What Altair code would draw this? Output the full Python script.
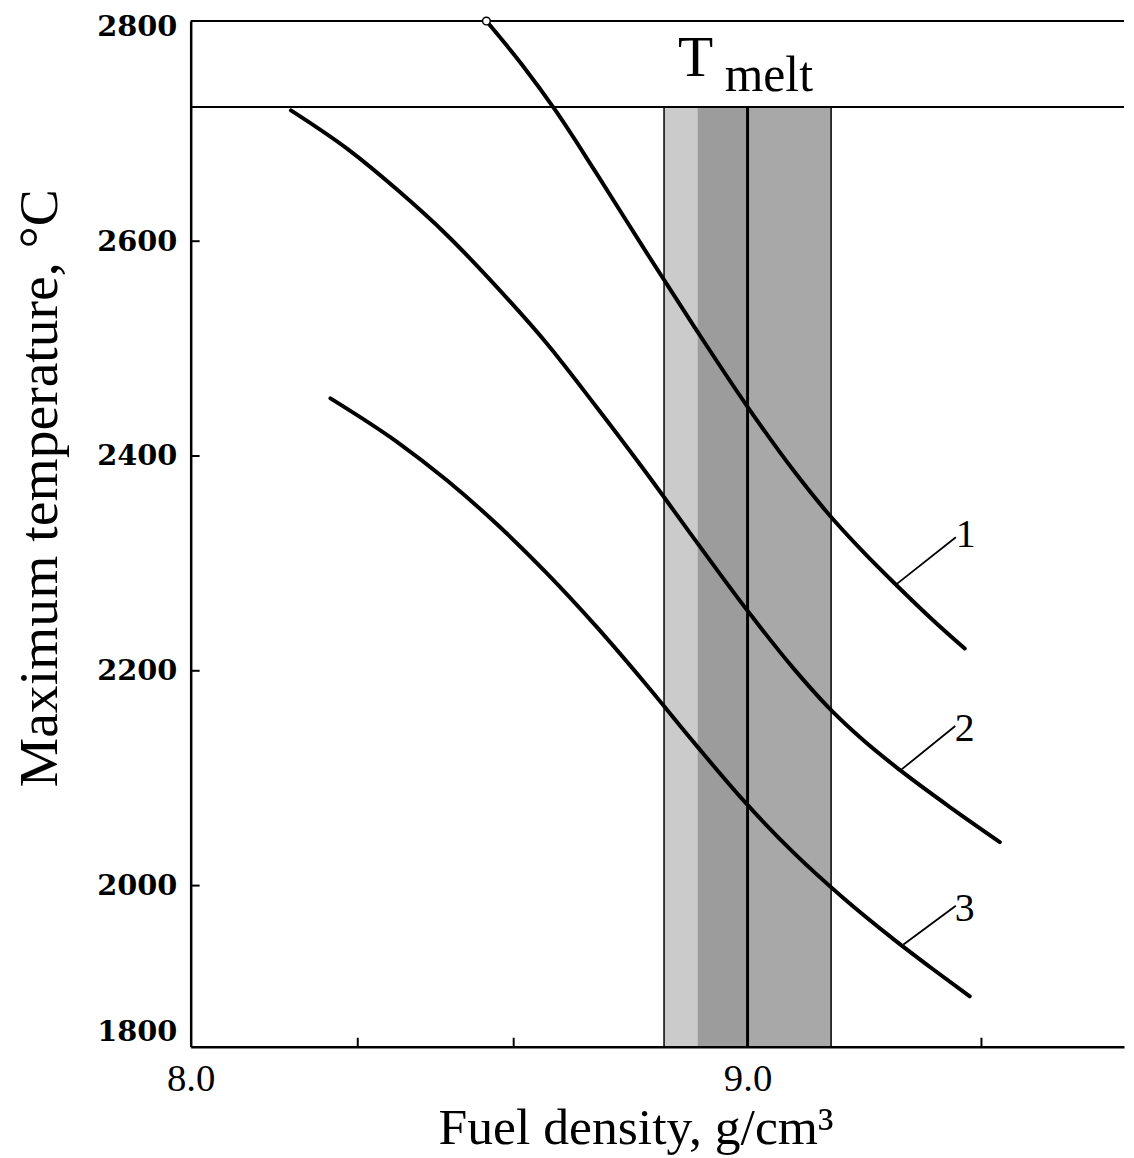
import altair as alt
import pandas as pd

# ---- data ----
c1_x = [8.531, 8.594, 8.656, 8.727, 8.816, 8.905, 9.000, 9.084, 9.143, 9.209, 9.267, 9.333, 9.390]
c1_y = [2805, 2765.0, 2721.0, 2664.5, 2591.4, 2519.8, 2445.8, 2385.5, 2347.4, 2310.0, 2279.9, 2247.1, 2220.7]
c2_x = [8.180, 8.282, 8.371, 8.460, 8.549, 8.638, 8.727, 8.816, 8.905, 9.000, 9.084, 9.143, 9.209, 9.275, 9.369, 9.453]
c2_y = [2721.8, 2685.7, 2647.8, 2605.8, 2557.7, 2505.7, 2446.8, 2385.8, 2322.4, 2255.9, 2201.3, 2167.1, 2134.8, 2107.0, 2071.0, 2040.5]
c3_x = [8.251, 8.371, 8.460, 8.549, 8.638, 8.727, 8.816, 8.905, 8.995, 9.084, 9.173, 9.262, 9.333, 9.399]
c3_y = [2453.7, 2413.0, 2377.4, 2336.9, 2291.6, 2242.0, 2188.4, 2132.4, 2077.9, 2030.0, 1988.0, 1950.2, 1922.1, 1896.8]

t_melt = 2725
y_min, y_max = 1850, 2805
x_min, x_max = 8.0, 9.676
nominal_density = 9.0

band_lo = [8.85, 8.91, 9.0]
band_hi = [8.91, 9.0, 9.15]
band_shade = ["#cbcbcb", "#9c9c9c", "#a8a8a8"]

lead_names = ["1", "2", "3"]
lead_x1 = [9.267, 9.275, 9.280]
lead_x2 = [9.374, 9.373, 9.374]
lead_y1 = [2280.5, 2107.5, 1945.2]
lead_y2 = [2324.3, 2148.6, 1981.3]
lab_x = [9.374, 9.372, 9.372]
lab_y = [2315.0, 2134.8, 1967.4]

x_tick_labels = [8.0, 9.0]
x_minor_ticks = [8.30, 8.58, 9.42]
y_tick_labels = [1850, 2000, 2200, 2400, 2600, 2800]
y_minor_ticks = [2000, 2200, 2400, 2600]

W, H = 940, 1033
SERIF = "Liberation Serif"

xs = alt.Scale(domain=[x_min, x_max], nice=False, zero=False)
ys = alt.Scale(domain=[y_min, y_max], nice=False, zero=False)

X_AX = alt.Axis(values=x_tick_labels, format=".1f", ticks=False, grid=False,
                domainColor="black", domainWidth=2.5, labelFont=SERIF, labelFontSize=39,
                labelColor="black", labelPadding=13, labelFlush=False,
                title="Fuel density, g/cm³", titleFont=SERIF, titleFontSize=52,
                titleFontWeight="normal", titleColor="black", titleX=448, titleY=98,
                titleBaseline="alphabetic", titleAlign="center")
Y_AX = alt.Axis(values=y_tick_labels, format="d", ticks=False, grid=False,
                labelExpr="datum.value < 1900 ? '1800' : datum.label",
                domainColor="black", domainWidth=2.5, labelFont="DejaVu Serif",
                labelFontWeight="bold", labelFontSize=29, labelColor="black",
                labelPadding=14, labelFlush=True,
                title="Maximum temperature,  °C", titleFont=SERIF, titleFontSize=56,
                titleFontWeight="normal", titleColor="black", titleAngle=-90,
                titleX=-135, titleY=470, titleBaseline="alphabetic", titleAlign="center")


def X(field):
    return alt.X(field, scale=xs, axis=X_AX)


def Y(field):
    return alt.Y(field, scale=ys, axis=Y_AX)


curves = pd.DataFrame({
    "series": ["1"] * len(c1_x) + ["2"] * len(c2_x) + ["3"] * len(c3_x),
    "x": c1_x + c2_x + c3_x,
    "y": c1_y + c2_y + c3_y,
})
band = pd.DataFrame({"lo": band_lo, "hi": band_hi, "shade": band_shade,
                     "top": [t_melt] * 3, "bot": [y_min] * 3})
band_box = pd.DataFrame({"lo": [band_lo[0]], "hi": [band_hi[-1]], "top": [t_melt], "bot": [y_min]})
leads = pd.DataFrame({"name": lead_names, "x1": lead_x1, "x2": lead_x2, "y1": lead_y1, "y2": lead_y2,
                      "lx": lab_x, "ly": lab_y})

band_layer = alt.Chart(band).mark_rect(strokeWidth=0).encode(
    x=X("lo:Q"), x2="hi:Q", y=Y("top:Q"), y2="bot:Q",
    fill=alt.Fill("shade:N", scale=None),
)
box_layer = alt.Chart(band_box).mark_rect(filled=False, stroke="black", strokeWidth=1.5).encode(
    x=X("lo:Q"), x2="hi:Q", y=Y("top:Q"), y2="bot:Q",
)
vline = alt.Chart(pd.DataFrame({"x": [nominal_density], "top": [t_melt], "bot": [y_min]})).mark_rule(
    color="black", strokeWidth=3).encode(
    x=X("x:Q"), y=Y("top:Q"), y2="bot:Q",
)
melt_line = alt.Chart(pd.DataFrame({"y": [t_melt]})).mark_rule(color="black", strokeWidth=2).encode(
    y=Y("y:Q"), x=alt.value(0), x2=alt.value(W),
)
top_line = alt.Chart(pd.DataFrame({"y": [y_max]})).mark_rule(color="black", strokeWidth=2).encode(
    y=Y("y:Q"), x=alt.value(0), x2=alt.value(W),
)
curve_layer = alt.Chart(curves).mark_line(color="black", strokeWidth=4, interpolate="monotone",
                                          strokeCap="round").encode(
    x=X("x:Q"), y=Y("y:Q"), detail="series:N",
)
circle = alt.Chart(pd.DataFrame({"x": [c1_x[0]], "y": [c1_y[0]]})).mark_point(
    shape="circle", filled=True, fill="white", stroke="black", strokeWidth=1.5, size=60, opacity=1).encode(
    x=X("x:Q"), y=Y("y:Q"),
)
lead_layer = alt.Chart(leads).mark_rule(color="black", strokeWidth=1.8).encode(
    x=X("x1:Q"), x2="x2:Q", y=Y("y1:Q"), y2="y2:Q",
)
lab_layer = alt.Chart(leads).mark_text(font=SERIF, fontSize=40, color="black", align="left",
                                       baseline="alphabetic").encode(
    x=X("lx:Q"), y=Y("ly:Q"), text="name:N",
)
t_text = alt.Chart(pd.DataFrame({"x": [8.875], "y": [2754.2], "t": ["T"]})).mark_text(
    font=SERIF, fontSize=58, color="black", align="left", baseline="alphabetic").encode(
    x=X("x:Q"), y=Y("y:Q"), text="t:N",
)
melt_text = alt.Chart(pd.DataFrame({"x": [8.959], "y": [2739.4], "t": ["melt"]})).mark_text(
    font=SERIF, fontSize=50, color="black", align="left", baseline="alphabetic").encode(
    x=X("x:Q"), y=Y("y:Q"), text="t:N",
)
y_ticks = alt.Chart(pd.DataFrame({"y": y_minor_ticks})).mark_rule(color="black", strokeWidth=2).encode(
    y=Y("y:Q"), x=alt.value(0), x2=alt.value(9),
)
x_ticks = alt.Chart(pd.DataFrame({"x": x_minor_ticks})).mark_rule(color="black", strokeWidth=2).encode(
    x=X("x:Q"), y=alt.value(H), y2=alt.value(H - 9),
)

chart = alt.layer(
    band_layer, box_layer, vline, melt_line, top_line, y_ticks, x_ticks,
    curve_layer, circle, lead_layer, lab_layer, t_text, melt_text,
).properties(
    width=W, height=H,
    autosize=alt.AutoSizeParams(type="none"),
    padding={"left": 184, "top": 9, "right": 2, "bottom": 110},
    background="white",
).configure_view(stroke=None)

chart.save("out.html", embed_options={"renderer": "svg", "actions": False})
